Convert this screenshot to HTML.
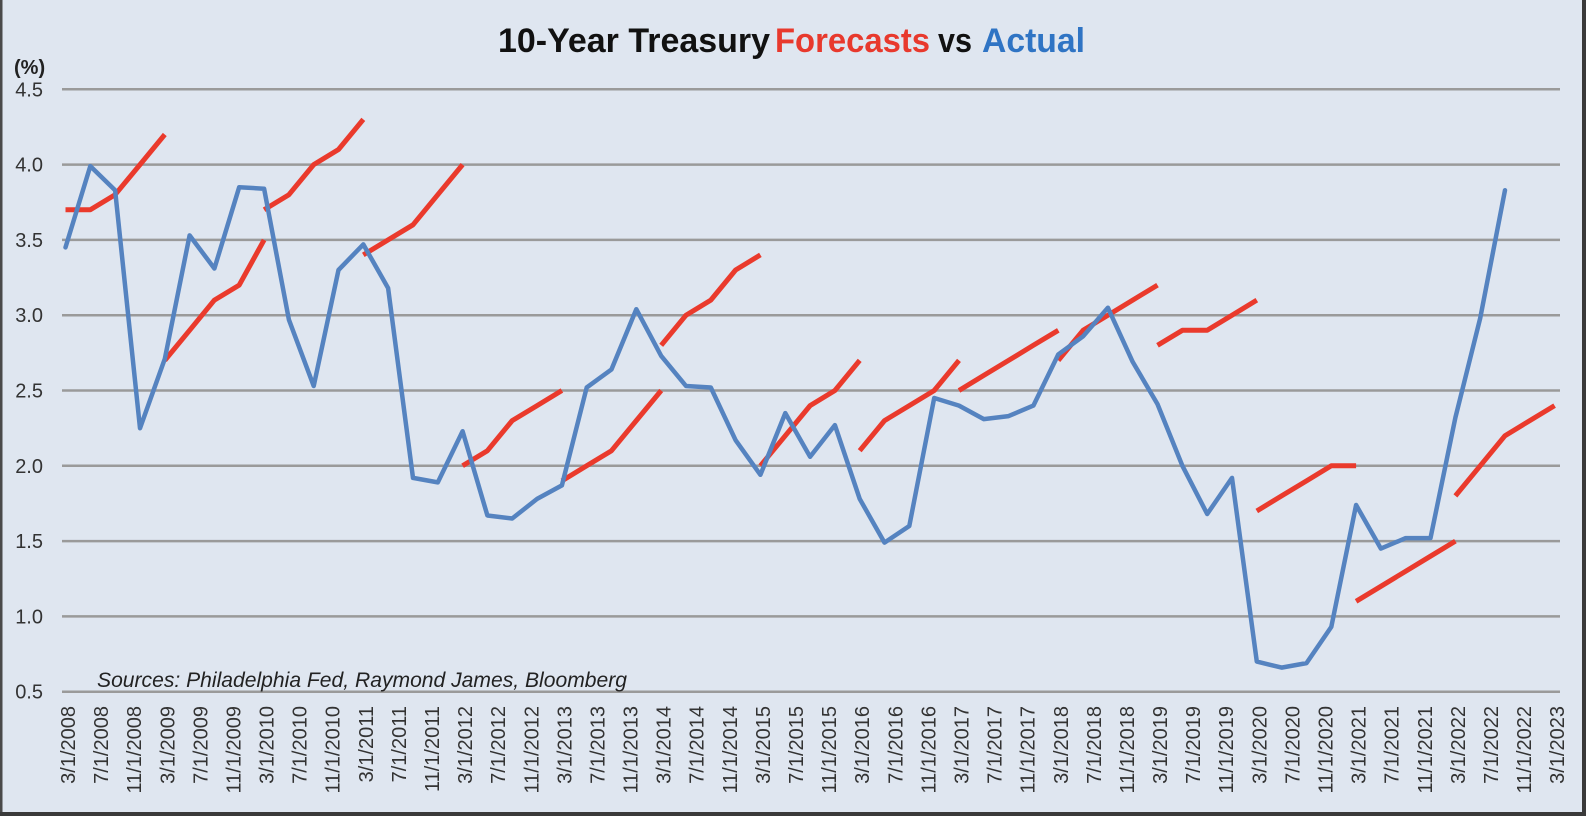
<!DOCTYPE html>
<html>
<head>
<meta charset="utf-8">
<style>
  html,body{margin:0;padding:0;background:#dfe6f0;}
  svg{display:block;}
  .tk{font-family:"Liberation Sans",sans-serif;font-size:20px;fill:#333;}
  .xl{font-family:"Liberation Sans",sans-serif;font-size:20px;fill:#333;}
  .tt{font-family:"Liberation Sans",sans-serif;font-size:34px;font-weight:bold;}
</style>
</head>
<body>
<svg width="1586" height="816" viewBox="0 0 1586 816" xmlns="http://www.w3.org/2000/svg">
  <rect x="0" y="0" width="1586" height="816" fill="#dfe6f0"/>

  <!-- gridlines -->
  <g stroke="#9a9a9a" stroke-width="2.5">
    <line x1="62" y1="89.3" x2="1560" y2="89.3"/>
    <line x1="62" y1="164.6" x2="1560" y2="164.6"/>
    <line x1="62" y1="239.9" x2="1560" y2="239.9"/>
    <line x1="62" y1="315.2" x2="1560" y2="315.2"/>
    <line x1="62" y1="390.5" x2="1560" y2="390.5"/>
    <line x1="62" y1="465.8" x2="1560" y2="465.8"/>
    <line x1="62" y1="541.1" x2="1560" y2="541.1"/>
    <line x1="62" y1="616.4" x2="1560" y2="616.4"/>
    <line x1="62" y1="691.7" x2="1560" y2="691.7"/>
  </g>

  <!-- title -->
  <text class="tt" x="498" y="52" fill="#111" textLength="272" lengthAdjust="spacingAndGlyphs">10-Year Treasury</text>
  <text class="tt" x="775" y="52" fill="#e8392d" textLength="155" lengthAdjust="spacingAndGlyphs">Forecasts</text>
  <text class="tt" x="938" y="52" fill="#111" textLength="34" lengthAdjust="spacingAndGlyphs">vs</text>
  <text class="tt" x="982" y="52" fill="#2f74c4" textLength="103" lengthAdjust="spacingAndGlyphs">Actual</text>

  <!-- (%) -->
  <text x="14" y="74" font-family="Liberation Sans, sans-serif" font-size="20" font-weight="bold" fill="#222">(%)</text>

  <!-- y tick labels -->
  <g class="tk" text-anchor="end">
    <text x="43" y="96.3">4.5</text>
    <text x="43" y="171.6">4.0</text>
    <text x="43" y="246.9">3.5</text>
    <text x="43" y="322.2">3.0</text>
    <text x="43" y="397.5">2.5</text>
    <text x="43" y="472.8">2.0</text>
    <text x="43" y="548.1">1.5</text>
    <text x="43" y="623.4">1.0</text>
    <text x="43" y="698.7">0.5</text>
  </g>

  <!-- sources -->
  <text x="97" y="687" font-family="Liberation Sans, sans-serif" font-size="21" font-style="italic" fill="#222" textLength="530" lengthAdjust="spacingAndGlyphs">Sources: Philadelphia Fed, Raymond James, Bloomberg</text>

  <!-- forecasts (red) -->
  <g fill="none" stroke="#ea3a2c" stroke-width="5" stroke-linejoin="round" stroke-linecap="butt">
    <polyline points="65.5,209.8 90.3,209.8 115.1,194.7 140.0,164.6 164.8,134.5"/>
    <polyline points="164.8,360.4 189.6,330.3 214.4,300.1 239.2,285.1 264.1,239.9"/>
    <polyline points="264.1,209.8 288.9,194.7 313.7,164.6 338.5,149.5 363.3,119.4"/>
    <polyline points="363.3,254.9 388.1,239.9 413.0,224.8 437.8,194.7 462.6,164.6"/>
    <polyline points="462.6,465.8 487.4,450.7 512.2,420.6 537.1,405.6 561.9,390.5"/>
    <polyline points="561.9,480.9 586.7,465.8 611.5,450.7 636.3,420.6 661.2,390.5"/>
    <polyline points="661.2,345.3 686.0,315.2 710.8,300.1 735.6,270.0 760.4,254.9"/>
    <polyline points="760.4,465.8 785.3,435.7 810.1,405.6 834.9,390.5 859.7,360.4"/>
    <polyline points="859.7,450.7 884.5,420.6 909.3,405.6 934.2,390.5 959.0,360.4"/>
    <polyline points="959.0,390.5 983.8,375.4 1008.6,360.4 1033.4,345.3 1058.3,330.3"/>
    <polyline points="1058.3,360.4 1083.1,330.3 1107.9,315.2 1132.7,300.1 1157.5,285.1"/>
    <polyline points="1157.5,345.3 1182.4,330.3 1207.2,330.3 1232.0,315.2 1256.8,300.1"/>
    <polyline points="1256.8,511.0 1281.6,495.9 1306.5,480.9 1331.3,465.8 1356.1,465.8"/>
    <polyline points="1356.1,601.3 1380.9,586.3 1405.7,571.2 1430.5,556.2 1455.4,541.1"/>
    <polyline points="1455.4,495.9 1480.2,465.8 1505.0,435.7 1529.8,420.6 1554.6,405.6"/>
  </g>

  <!-- actual (blue) -->
  <polyline fill="none" stroke="#5583c0" stroke-width="4.5" stroke-linejoin="round" stroke-linecap="round"
    points="65.5,247.4 90.3,166.1 115.1,190.2 140.0,428.2 164.8,358.9 189.6,235.4 214.4,268.5 239.2,187.2 264.1,188.7 288.9,319.7 313.7,386.0 338.5,270.0 363.3,244.4 388.1,288.1 413.0,477.9 437.8,482.4 462.6,431.2 487.4,515.5 512.2,518.5 537.1,498.9 561.9,485.4 586.7,387.5 611.5,369.4 636.3,309.2 661.2,355.9 686.0,386.0 710.8,387.5 735.6,440.2 760.4,474.8 785.3,413.1 810.1,456.8 834.9,425.1 859.7,498.9 884.5,542.6 909.3,526.0 934.2,398.0 959.0,405.6 983.8,419.1 1008.6,416.1 1033.4,405.6 1058.3,354.4 1083.1,336.3 1107.9,307.7 1132.7,361.9 1157.5,404.1 1182.4,465.8 1207.2,514.0 1232.0,477.9 1256.8,661.6 1281.6,667.6 1306.5,663.1 1331.3,626.9 1356.1,505.0 1380.9,548.6 1405.7,538.1 1430.5,538.1 1455.4,417.6 1480.2,318.2 1505.0,190.2"/>

  <!-- x labels -->
  <g class="xl" text-anchor="end">
    <text x="75.0" y="706" transform="rotate(-90 75.0 706)">3/1/2008</text>
    <text x="108.1" y="706" transform="rotate(-90 108.1 706)">7/1/2008</text>
    <text x="141.2" y="706" transform="rotate(-90 141.2 706)">11/1/2008</text>
    <text x="174.3" y="706" transform="rotate(-90 174.3 706)">3/1/2009</text>
    <text x="207.4" y="706" transform="rotate(-90 207.4 706)">7/1/2009</text>
    <text x="240.5" y="706" transform="rotate(-90 240.5 706)">11/1/2009</text>
    <text x="273.6" y="706" transform="rotate(-90 273.6 706)">3/1/2010</text>
    <text x="306.6" y="706" transform="rotate(-90 306.6 706)">7/1/2010</text>
    <text x="339.7" y="706" transform="rotate(-90 339.7 706)">11/1/2010</text>
    <text x="372.8" y="706" transform="rotate(-90 372.8 706)">3/1/2011</text>
    <text x="405.9" y="706" transform="rotate(-90 405.9 706)">7/1/2011</text>
    <text x="439.0" y="706" transform="rotate(-90 439.0 706)">11/1/2011</text>
    <text x="472.1" y="706" transform="rotate(-90 472.1 706)">3/1/2012</text>
    <text x="505.2" y="706" transform="rotate(-90 505.2 706)">7/1/2012</text>
    <text x="538.3" y="706" transform="rotate(-90 538.3 706)">11/1/2012</text>
    <text x="571.4" y="706" transform="rotate(-90 571.4 706)">3/1/2013</text>
    <text x="604.5" y="706" transform="rotate(-90 604.5 706)">7/1/2013</text>
    <text x="637.6" y="706" transform="rotate(-90 637.6 706)">11/1/2013</text>
    <text x="670.7" y="706" transform="rotate(-90 670.7 706)">3/1/2014</text>
    <text x="703.7" y="706" transform="rotate(-90 703.7 706)">7/1/2014</text>
    <text x="736.8" y="706" transform="rotate(-90 736.8 706)">11/1/2014</text>
    <text x="769.9" y="706" transform="rotate(-90 769.9 706)">3/1/2015</text>
    <text x="803.0" y="706" transform="rotate(-90 803.0 706)">7/1/2015</text>
    <text x="836.1" y="706" transform="rotate(-90 836.1 706)">11/1/2015</text>
    <text x="869.2" y="706" transform="rotate(-90 869.2 706)">3/1/2016</text>
    <text x="902.3" y="706" transform="rotate(-90 902.3 706)">7/1/2016</text>
    <text x="935.4" y="706" transform="rotate(-90 935.4 706)">11/1/2016</text>
    <text x="968.5" y="706" transform="rotate(-90 968.5 706)">3/1/2017</text>
    <text x="1001.6" y="706" transform="rotate(-90 1001.6 706)">7/1/2017</text>
    <text x="1034.7" y="706" transform="rotate(-90 1034.7 706)">11/1/2017</text>
    <text x="1067.8" y="706" transform="rotate(-90 1067.8 706)">3/1/2018</text>
    <text x="1100.9" y="706" transform="rotate(-90 1100.9 706)">7/1/2018</text>
    <text x="1133.9" y="706" transform="rotate(-90 1133.9 706)">11/1/2018</text>
    <text x="1167.0" y="706" transform="rotate(-90 1167.0 706)">3/1/2019</text>
    <text x="1200.1" y="706" transform="rotate(-90 1200.1 706)">7/1/2019</text>
    <text x="1233.2" y="706" transform="rotate(-90 1233.2 706)">11/1/2019</text>
    <text x="1266.3" y="706" transform="rotate(-90 1266.3 706)">3/1/2020</text>
    <text x="1299.4" y="706" transform="rotate(-90 1299.4 706)">7/1/2020</text>
    <text x="1332.5" y="706" transform="rotate(-90 1332.5 706)">11/1/2020</text>
    <text x="1365.6" y="706" transform="rotate(-90 1365.6 706)">3/1/2021</text>
    <text x="1398.7" y="706" transform="rotate(-90 1398.7 706)">7/1/2021</text>
    <text x="1431.8" y="706" transform="rotate(-90 1431.8 706)">11/1/2021</text>
    <text x="1464.9" y="706" transform="rotate(-90 1464.9 706)">3/1/2022</text>
    <text x="1498.0" y="706" transform="rotate(-90 1498.0 706)">7/1/2022</text>
    <text x="1531.0" y="706" transform="rotate(-90 1531.0 706)">11/1/2022</text>
    <text x="1564.1" y="706" transform="rotate(-90 1564.1 706)">3/1/2023</text>
  </g>

  <!-- frame -->
  <rect x="0" y="0" width="2.5" height="816" fill="#4a4a4a"/>
  <rect x="1582" y="0" width="4" height="816" fill="#3a3a3a"/>
  <rect x="0" y="812" width="1586" height="4" fill="#3a3a3a"/>
</svg>
</body>
</html>
